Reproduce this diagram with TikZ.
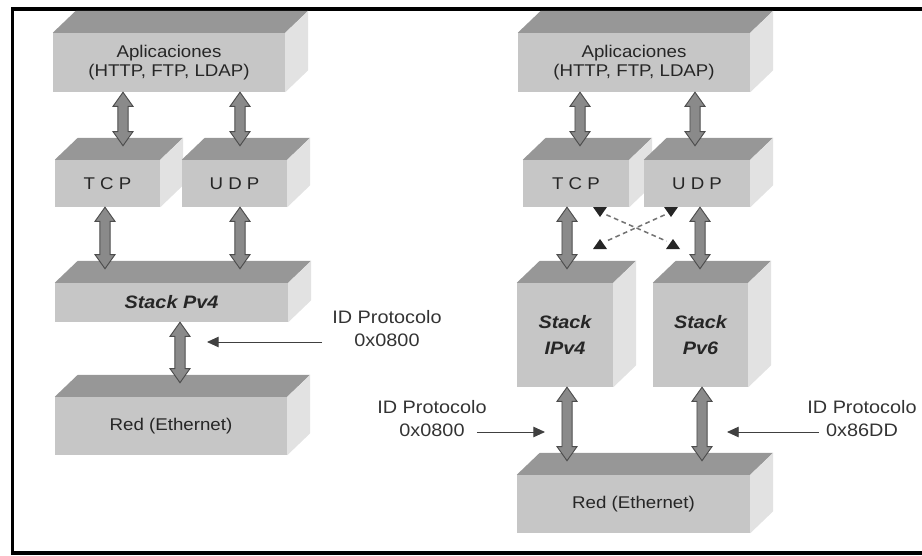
\documentclass[tikz,border=0pt]{standalone}
\usepackage{fontspec}
\setmainfont{Liberation Sans}[FakeStretch=1.1]
\usetikzlibrary{calc,arrows.meta}

\definecolor{colcara}{HTML}{C6C6C6}
\definecolor{coltapa}{HTML}{979797}
\definecolor{collado}{HTML}{E2E2E2}
\definecolor{colflecha}{HTML}{8A8A8A}
\definecolor{colborde}{HTML}{4D4D4D}

\tikzset{
  tam/.style 2 args={minimum width=#1*0.03cm, minimum height=#2*0.03cm},
  caja/.style={fill=colcara, inner sep=0pt, align=center, text=black!85,
    font=\fontsize{14.5}{16.5}\selectfont},
  negrita/.style={font=\fontsize{15.4}{22}\selectfont\bfseries\itshape},
  nota/.style={inner sep=0pt, align=center, text=black!80,
    font=\fontsize{15.4}{19.6}\selectfont},
  flechaf/.style={fill=colflecha, draw=colborde, line width=0.8pt},
  flechaid/.style={draw=black!75, line width=0.8pt, -{Triangle[length=10pt,width=9pt]}},
  punteada/.style={draw=black!55, line width=1.3pt, dash pattern=on 4pt off 3pt},
}

% 3D box: front face is the node, top and side drawn from its anchors
\newcommand{\caja}[6][]{%
  \node[caja, tam={#4}{#5}, #1] (#2) at (#3) {#6};
  \fill[coltapa] (#2.north west) -- ++(23,-22) -- ([shift={(23,-22)}]#2.north east) -- (#2.north east) -- cycle;
  \fill[collado] (#2.north east) -- ++(23,-22) -- ([shift={(23,-22)}]#2.south east) -- (#2.south east) -- cycle;
}

% fat double arrow at x=#1 from node #2 down to node #3
\newcommand{\flecha}[3]{%
  \filldraw[flechaf] let \p1=(#1,0 |- #2.south), \p2=(#1,0 |- #3.north) in
    (\x1,\y1) -- (\x1+8.5pt,\y1-12pt) -- (\x1+4.3pt,\y1-12pt)
    -- (\x1+4.3pt,\y2+24pt) -- (\x1+8.5pt,\y2+24pt) -- (\x1,\y2+12pt)
    -- (\x1-8.5pt,\y2+24pt) -- (\x1-4.3pt,\y2+24pt)
    -- (\x1-4.3pt,\y1-12pt) -- (\x1-8.5pt,\y1-12pt) -- cycle;
}

\begin{document}
\begin{tikzpicture}[x=0.03cm, y=-0.03cm]
    \useasboundingbox (0,0) rectangle (922,555);
    \draw[line width=3.4pt] (930,9) -- (12.5,9) -- (12.5,552.5) -- (930,552.5);

    % IPv4 only
    \caja{app1}{169,62.5}{232}{59}{Aplicaciones\\(HTTP, FTP, LDAP)}
    \caja{tcp1}{107.5,183.5}{105}{47}{T C P}
    \caja{udp1}{234.5,183.5}{105}{47}{U D P}
    \caja[negrita]{ip1}{171.5,302.5}{233}{39}{Stack Pv4}
    \caja{red1}{171,426}{232}{58}{Red (Ethernet)}

    \flecha{123}{app1}{tcp1}
    \flecha{240}{app1}{udp1}
    \flecha{105}{tcp1}{ip1}
    \flecha{240}{udp1}{ip1}
    \flecha{180}{ip1}{red1}

    \node[nota] (id1) at (387,328.5) {ID Protocolo\\0x0800};
    \coordinate (p1) at (207,342);
    \draw[flechaid, shorten <=8.5pt] (id1.west |- p1) -- (p1);

    % dual stack
    \caja{app2}{634,62.5}{232}{59}{Aplicaciones\\(HTTP, FTP, LDAP)}
    \caja{tcp2}{576,183.5}{106}{47}{T C P}
    \caja{udp2}{697,183.5}{106}{47}{U D P}
    \caja[negrita]{ip4}{565,335}{96}{104}{Stack\\IPv4}
    \caja[negrita]{ip6}{700.5,335}{95}{104}{Stack\\Pv6}
    \caja{red2}{633.5,504}{233}{58}{Red (Ethernet)}

    \flecha{580}{app2}{tcp2}
    \flecha{695}{app2}{udp2}
    \flecha{567}{tcp2}{ip4}
    \flecha{700}{udp2}{ip6}
    \flecha{567}{ip4}{red2}
    \flecha{702}{ip6}{red2}

    % crossed paths
    \coordinate (ta) at (600,212);
    \coordinate (tb) at (671,212);
    \coordinate (tc) at (600,244);
    \coordinate (td) at (673,244);
    \draw[punteada, shorten <=6pt, shorten >=6pt] (ta) -- (td);
    \draw[punteada, shorten <=6pt, shorten >=6pt] (tb) -- (tc);
    \foreach \c/\s in {ta/1,tb/1,tc/-1,td/-1}
      \fill[black!85] (\c) +(-7,-5*\s) -- +(7,-5*\s) -- +(0,5*\s) -- cycle;

    \node[nota] (id2) at (432,418.5) {ID Protocolo\\0x0800};
    \coordinate (p2) at (545,432);
    \draw[flechaid, shorten <=-8.5pt] (id2.east |- p2) -- (p2);

    \node[nota] (id3) at (862,418.5) {ID Protocolo\\0x86DD};
    \coordinate (p3) at (727,432);
    \draw[flechaid, shorten <=-10pt] (id3.west |- p3) -- (p3);
\end{tikzpicture}
\end{document}
